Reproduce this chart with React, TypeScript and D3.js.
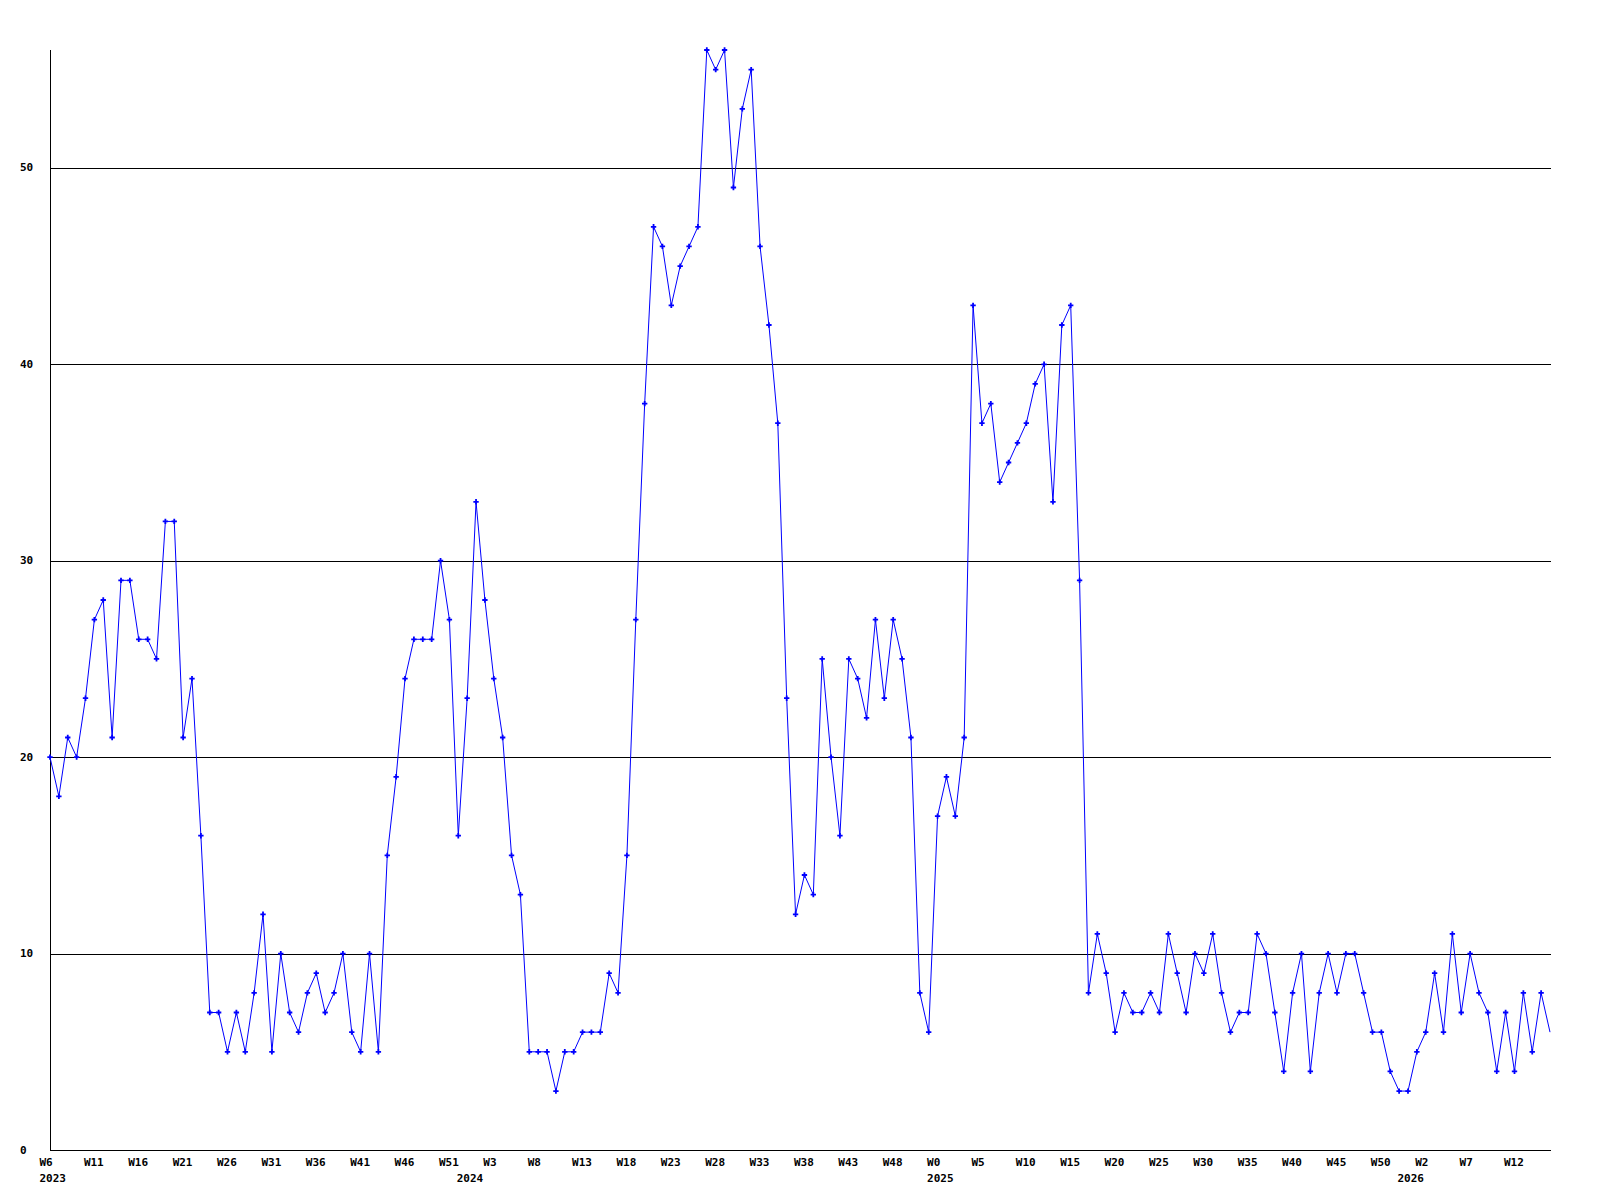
import React from "react";
import * as d3 from "d3";

// Weekly values per year (first week of each year given separately)
const years = ["2023", "2024", "2025", "2026"];
const firstWeek = [6, 0, 0, 0];
const values2023 = [20, 18, 21, 20, 23, 27, 28, 21, 29, 29, 26, 26, 25, 32, 32, 21, 24, 16, 7, 7, 5, 7, 5, 8, 12, 5, 10, 7, 6, 8, 9, 7, 8, 10, 6, 5, 10, 5, 15, 19, 24, 26, 26, 26, 30, 27, 16];
const values2024 = [23, 33, 28, 24, 21, 15, 13, 5, 5, 5, 3, 5, 5, 6, 6, 6, 9, 8, 15, 27, 38, 47, 46, 43, 45, 46, 47, 56, 55, 56, 49, 53, 55, 46, 42, 37, 23, 12, 14, 13, 25, 20, 16, 25, 24, 22, 27, 23, 27, 25, 21, 8, 6];
const values2025 = [17, 19, 17, 21, 43, 37, 38, 34, 35, 36, 37, 39, 40, 33, 42, 43, 29, 8, 11, 9, 6, 8, 7, 7, 8, 7, 11, 9, 7, 10, 9, 11, 8, 6, 7, 7, 11, 10, 7, 4, 8, 10, 4, 8, 10, 8, 10, 10, 8, 6, 6, 4, 3];
const values2026 = [3, 5, 6, 9, 6, 11, 7, 10, 8, 7, 4, 7, 4, 8, 5, 8, 6];
const yearValues = [values2023, values2024, values2025, values2026];

const weekTickLabels = ["W6", "W11", "W16", "W21", "W26", "W31", "W36", "W41", "W46", "W51", "W3", "W8", "W13", "W18", "W23", "W28", "W33", "W38", "W43", "W48", "W0", "W5", "W10", "W15", "W20", "W25", "W30", "W35", "W40", "W45", "W50", "W2", "W7", "W12"];
const yTicks = [0, 10, 20, 30, 40, 50];
const tickStep = 5;

type Pt = { i: number; v: number; year: string; week: number };
const points: Pt[] = [];
const yearStart: number[] = [];
yearValues.forEach((arr, yi) => {
  yearStart.push(points.length);
  arr.forEach((v, k) => points.push({ i: points.length, v, year: years[yi], week: firstWeek[yi] + k }));
});

const FONT = "'DejaVu Sans Mono', monospace";

export default function App() {
  const left = 50, right = 1550, top = 50, bottom = 1150;
  const x = d3.scaleLinear().domain([0, points.length - 1]).range([left, right]);
  const y = d3.scaleLinear().domain([0, 56]).range([bottom, top]);
  const line = d3.line<Pt>().x((d) => x(d.i)).y((d) => y(d.v));
  const cross = d3.symbol().type(d3.symbolCross).size(16)();

  return (
    <svg
      width={1600}
      height={1200}
      style={{ position: "absolute", left: 0, top: 0, background: "#fff" }}
      xmlns="http://www.w3.org/2000/svg"
    >
      <rect x={0} y={0} width={1600} height={1200} fill="#fff" />
      {/* gridlines */}
      {yTicks.filter((t) => t > 0).map((t) => (
        <line key={t} x1={left} x2={right + 1} y1={Math.round(y(t)) + 0.5} y2={Math.round(y(t)) + 0.5} stroke="#000" strokeWidth={1} shapeRendering="crispEdges" />
      ))}
      {/* axes */}
      <line x1={left + 0.5} x2={left + 0.5} y1={top} y2={bottom + 0.5} stroke="#000" shapeRendering="crispEdges" />
      <line x1={left} x2={right + 1} y1={bottom + 0.5} y2={bottom + 0.5} stroke="#000" shapeRendering="crispEdges" />
      {/* y labels */}
      {yTicks.map((t) => (
        <text key={t} x={20} y={y(t) + 3.5} fontFamily={FONT} fontWeight="bold" fontSize={11} fill="#000">
          {t}
        </text>
      ))}
      {/* x labels */}
      {weekTickLabels.map((lab, k) => (
        <text key={lab + k} x={x(k * tickStep) - 10.5} y={1166} fontFamily={FONT} fontWeight="bold" fontSize={11} fill="#000">
          {lab}
        </text>
      ))}
      {years.map((yr, yi) => (
        <text key={yr} x={x(yearStart[yi]) - 10.5} y={1181.5} fontFamily={FONT} fontWeight="bold" fontSize={11} fill="#000">
          {yr}
        </text>
      ))}
      {/* series */}
      <path d={line(points) || ""} fill="none" stroke="#0000ff" strokeWidth={1} />
      {points.slice(0, points.length - 1).map((d) => (
        <path key={d.i} d={cross || ""} transform={`translate(${x(d.i)},${y(d.v)})`} fill="#0000ff" />
      ))}
    </svg>
  );
}
